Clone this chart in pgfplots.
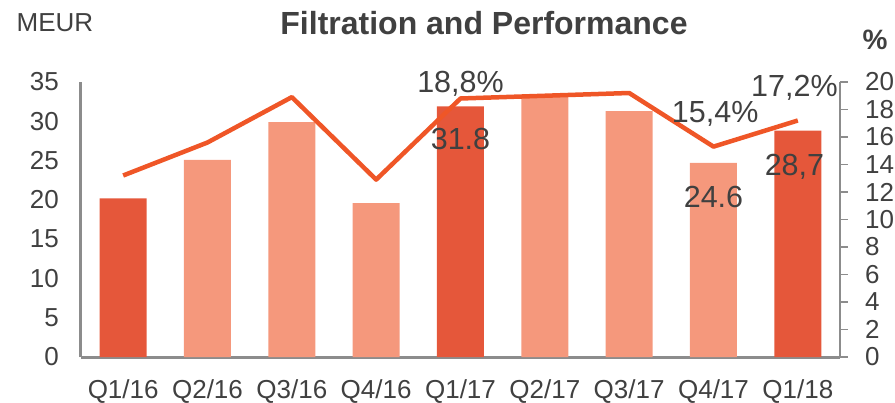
\documentclass[border=0pt]{standalone}
\usepackage{pgfplots}
\pgfplotsset{compat=1.18}
\usepackage{fontspec}
\setmainfont{Liberation Sans}
\definecolor{darkbar}{HTML}{E5573A}
\definecolor{lightbar}{HTML}{F5987C}
\definecolor{linec}{HTML}{EF5627}
\definecolor{txt}{HTML}{404040}
\definecolor{axgray}{HTML}{8C8C8C}
\begin{document}
\begin{tikzpicture}[x=1pt,y=1pt]
\pgfplotsset{
  common/.style={
    width=759pt, height=275pt, scale only axis,
    at={(0,0)}, anchor=south west,
    xmin=-0.5, xmax=8.5, clip=false,
    /pgf/number format/assume math mode=true,
    ticklabel style={font=\fontsize{26}{30}\selectfont, text=txt, inner sep=0pt},
  }
}
\begin{axis}[common,
  ymin=0, ymax=35, ytick={0,5,...,35},
  axis x line*=bottom, axis y line*=left,
  axis line style={draw=axgray, line width=3pt},
  xtick={0,...,8},
  xticklabels={Q1/16,Q2/16,Q3/16,Q4/16,Q1/17,Q2/17,Q3/17,Q4/17,Q1/18},
  major tick length=0pt,
  xticklabel style={anchor=north, yshift=-22pt},
  yticklabel style={anchor=east, xshift=-22pt},
  ybar, bar width=47pt, bar shift=0pt,
]
\addplot[fill=darkbar, draw=none] coordinates {(0,20.2) (4,31.9) (8,28.8)};
\addplot[fill=lightbar, draw=none] coordinates {(1,25.1) (2,29.9) (3,19.6) (5,33.2) (6,31.3) (7,24.7)};
\node[anchor=base, font=\fontsize{30.5}{34}\selectfont, text=txt] at (axis cs:4,26.35) {31.8};
\node[anchor=base, font=\fontsize{30.5}{34}\selectfont, text=txt] at (axis cs:7,19.09) {24.6};
\node[anchor=base, font=\fontsize{30.5}{34}\selectfont, text=txt] at (axis cs:7.96,23.16) {28,7};
\end{axis}
\begin{axis}[common,
  ymin=0, ymax=20, ytick={0,2,...,20},
  axis x line=none, axis y line*=right,
  axis line style={draw=axgray, line width=2pt},
  y axis line style={draw=axgray, line width=2pt},
  ytick align=outside, major tick length=8pt,
  ytick style={draw=axgray, line width=1.5pt},
  yticklabel style={anchor=west, xshift=17pt},
]
\addplot[draw=linec, line width=4.5pt, line join=round, mark=none] coordinates {
(0,13.2) (1,15.6) (2,18.9) (3,12.9) (4,18.8) (5,19.0) (6,19.2) (7,15.3) (8,17.2)};
\node[anchor=base, font=\fontsize{30.5}{34}\selectfont, text=txt] at (axis cs:4,19.27) {18,8\%};
\node[anchor=base, font=\fontsize{30.5}{34}\selectfont, text=txt] at (axis cs:7.02,17.09) {15,4\%};
\node[anchor=base, font=\fontsize{30.5}{34}\selectfont, text=txt] at (axis cs:7.96,18.91) {17,2\%};
\end{axis}
\node[anchor=base, font=\bfseries\fontsize{32}{36}\selectfont, text=txt] at (403,322) {Filtration and Performance};
\node[anchor=base, font=\fontsize{26}{30}\selectfont, text=txt] at (-26,325) {MEUR};
\node[anchor=base, font=\bfseries\fontsize{28}{32}\selectfont, text=txt] at (794,307) {\%};
\pgfresetboundingbox
\path[use as bounding box] (-81,-45) rectangle (814,357);
\end{tikzpicture}
\end{document}
